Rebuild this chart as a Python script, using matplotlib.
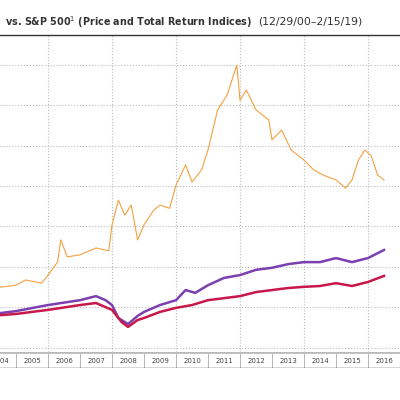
import matplotlib.pyplot as plt
import numpy as np

# index values (scaled)
orange_x = [2004.5, 2005.0, 2005.3, 2005.8, 2006.0, 2006.3, 2006.4, 2006.6, 2007.0, 2007.5, 2007.9,
            2008.0, 2008.2, 2008.4, 2008.6, 2008.8, 2009.0, 2009.3, 2009.5, 2009.8, 2010.0, 2010.3,
            2010.5, 2010.8, 2011.0, 2011.3, 2011.6, 2011.9, 2012.0, 2012.2, 2012.5, 2012.9, 2013.0,
            2013.3, 2013.6, 2014.0, 2014.3, 2014.6, 2015.0, 2015.3, 2015.5, 2015.7, 2015.9, 2016.1,
            2016.3, 2016.5]
orange_y = [150, 155, 168, 160, 180, 212, 267, 225, 230, 247, 240,
            304, 365, 328, 353, 267, 304, 340, 353, 345, 402, 452,
            410, 440, 489, 588, 625, 699, 612, 637, 588, 563, 514,
            538, 489, 464, 440, 427, 415, 395, 415, 464, 489, 475,
            427, 415]

purple_x = [2004.5, 2005.0, 2006.0, 2007.0, 2007.5, 2007.8, 2008.0, 2008.2, 2008.3, 2008.5, 2008.8,
            2009.0, 2009.5, 2010.0, 2010.3, 2010.6, 2011.0, 2011.5, 2012.0, 2012.5, 2013.0, 2013.5,
            2014.0, 2014.5, 2015.0, 2015.5, 2016.0, 2016.5]
purple_y = [86, 91, 106, 118, 128, 118, 106, 74, 69, 59, 79,
            89, 106, 118, 143, 136, 155, 173, 180, 193, 198, 207,
            212, 212, 222, 212, 222, 242]

red_x = [2004.5, 2005.0, 2006.0, 2007.0, 2007.5, 2008.0, 2008.3, 2008.5, 2008.8, 2009.0, 2009.5,
         2010.0, 2010.5, 2011.0, 2011.5, 2012.0, 2012.5, 2013.0, 2013.5, 2014.0, 2014.5, 2015.0,
         2015.5, 2016.0, 2016.5]
red_y = [81, 84, 94, 106, 111, 94, 64, 52, 69, 74, 89,
         99, 106, 118, 123, 128, 138, 143, 148, 151, 153, 160,
         153, 163, 178]

years = list(range(2004, 2017))

fig = plt.figure(figsize=(4, 4), dpi=100)
ax = fig.add_axes([0, 0.12, 1, 0.7925])
ax.plot(orange_x, orange_y, color='#f4a042', lw=0.8)
ax.plot(purple_x, purple_y, color='#7b3fb0', lw=1.8)
ax.plot(red_x, red_y, color='#c8174a', lw=1.8)
ax.set_xlim(2004.5, 2017.0)
ax.set_ylim(-10, 773)
ax.set_xticks(range(2006, 2018, 2))
ax.set_yticks(range(0, 800, 100))
ax.grid(True, color='#bbbbbb', linestyle=':', lw=0.8)
ax.tick_params(length=0, labelbottom=False, labelleft=False)
for s in ax.spines.values():
    s.set_visible(False)

# year band under the plot
band = fig.add_axes([0, 0.08, 1, 0.04])
band.set_xlim(2004.5, 2017.0)
band.set_ylim(0, 1)
for y in years:
    band.axvline(y, color='#aaaaaa', lw=0.6)
    band.text(y + 0.5, 0.45, str(y), ha='center', va='center', fontsize=5, color='#444444')
band.set_xticks([])
band.set_yticks([])
for s in band.spines.values():
    s.set_visible(False)
band.axhline(1, color='#bbbbbb', lw=2)
band.axhline(0, color='#333333', lw=1)

fig.text(0.012, 0.945, r'vs. S&P 500$^1$ (Price and Total Return Indices)', fontsize=6.9,
         fontweight='bold', color='#333333', va='center')
fig.text(0.645, 0.945, '(12/29/00–2/15/19)', fontsize=7.8, color='#333333', va='center')
fig.add_artist(plt.Line2D([0, 1], [0.912, 0.912], color='#333333', lw=1))

fig.savefig('out.png', dpi=100)
